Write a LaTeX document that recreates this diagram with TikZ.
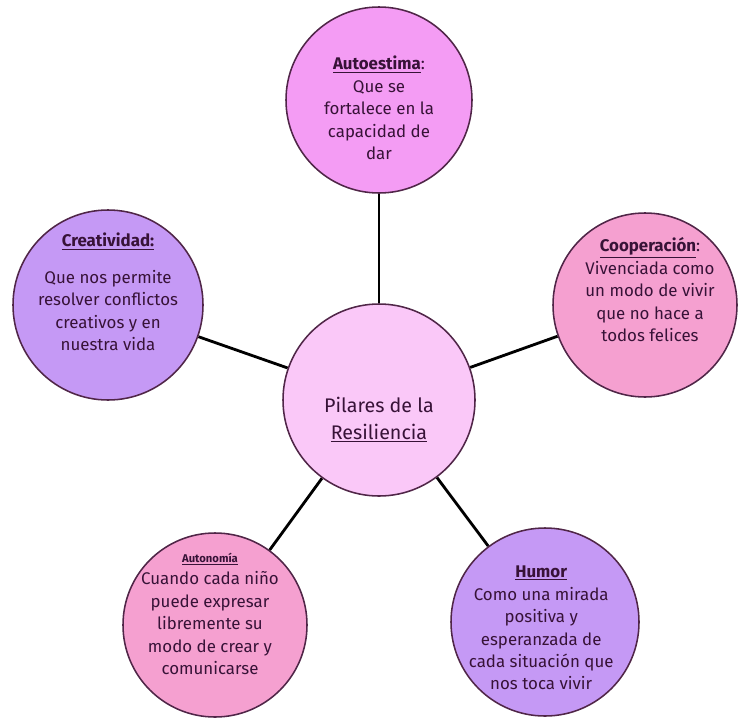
\documentclass[tikz,border=0pt]{standalone}
\usepackage{fontspec}
\setmainfont{Fira Sans}
\pgfdeclarelayer{bg}
\pgfsetlayers{bg,main}
\definecolor{ink}{RGB}{55,18,55}
\definecolor{rim}{RGB}{80,38,72}
\definecolor{hubfill}{RGB}{250,200,248}
\definecolor{magfill}{RGB}{244,156,244}
\definecolor{lilfill}{RGB}{197,153,245}
\definecolor{rosfill}{RGB}{245,160,208}
\newcommand{\titulo}[1]{\underline{\textbf{#1}}}
\tikzset{
  pilar/.style={circle, draw=rim, line width=1.1pt, inner sep=0pt, minimum size=#1},
  txt/.style={align=center, text=ink, font=\fontsize{12}{16}\selectfont},
  link/.style={line width=2pt, black}
}

\begin{document}
\begin{tikzpicture}
        \useasboundingbox (0cm, 0cm) rectangle (18.45cm, -17.925cm);
        \node (p0) [pilar=4.8cm, fill=hubfill] at (9.475000cm, -10.000000cm) {};
        \node (p1) [pilar=4.65cm, fill=magfill] at (9.475000cm, -2.500000cm) {};
        \node (p2) [pilar=4.75cm, fill=lilfill] at (2.700000cm, -7.625000cm) {};
        \node (p3) [pilar=4.6cm, fill=rosfill] at (16.125000cm, -7.625000cm) {};
        \node (p4) [pilar=4.6cm, fill=rosfill] at (5.375000cm, -15.625000cm) {};
        \node (p5) [pilar=4.7cm, fill=lilfill] at (13.625000cm, -15.550000cm) {};
        \node (t0) [txt, font=\fontsize{14}{19}\selectfont] at (9.475000cm, -10.500000cm)
                {Pilares de la\\\underline{Resiliencia}};
        \node (t1) [txt] at (9.475000cm, -2.700000cm)
                {\titulo{Autoestima}:\\Que se\\fortalece en la\\capacidad de\\dar};
        \node (t2) [txt] at (2.700000cm, -7.300000cm)
                {\titulo{Creatividad:}\\[10pt]Que nos permite\\resolver conflictos\\creativos y {\large en}\\{\large nuestra vida}};
        \node (t3) [txt] at (16.250000cm, -7.250000cm)
                {\titulo{Cooperación}:\\Vivenciada como\\un modo de vivir\\que no hace a\\todos felices};
        \node (t4) [txt] at (5.250000cm, -15.350000cm)
                {{\footnotesize\titulo{Autonomía}}\\Cuando cada niño\\puede expresar\\libremente su\\modo de {\large crear y}\\{\large comunicarse}};
        \node (t5) [txt] at (13.530000cm, -15.700000cm)
                {\titulo{Humor}\\Como una mirada\\positiva y\\esperanzada de\\cada situación que\\nos toca vivir};
        \begin{pgfonlayer}{bg}
                \draw (p0) edge [link] (p1);
                \draw (p0) edge [link] (p2);
                \draw (p0) edge [link] (p3);
                \draw (p0) edge [link] (p4);
                \draw (p0) edge [link] (p5);
        \end{pgfonlayer}
\end{tikzpicture}
\end{document}
